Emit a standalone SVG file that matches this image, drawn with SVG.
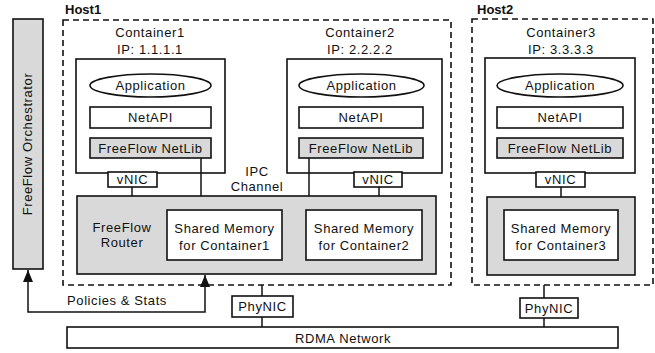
<svg xmlns="http://www.w3.org/2000/svg" width="655" height="353" viewBox="0 0 655 353">
<defs>
<style>
text{font-family:"Liberation Sans",Arial,sans-serif;font-size:13px;letter-spacing:0.6px;fill:#111;text-anchor:middle}
.b{font-weight:bold;text-anchor:start;letter-spacing:0}
.box{fill:#fff;stroke:#111;stroke-width:1.6}
.gray{fill:#d9d9d9;stroke:#111;stroke-width:1.6}
.host{fill:none;stroke:#111;stroke-width:1.6;stroke-dasharray:6,4}
.ln{fill:none;stroke:#111;stroke-width:1.5}
</style>
<marker id="ah" viewBox="0 0 12 10" refX="12" refY="5" markerWidth="12" markerHeight="10" markerUnits="userSpaceOnUse" orient="auto-start-reverse">
<path d="M0,0 L12,5 L0,10 Z" fill="#111"/>
</marker>
</defs>

<g id="orchestrator">
<rect class="gray" x="13" y="19" width="30" height="250"/>
<text transform="translate(32,144) rotate(-90)">FreeFlow Orchestrator</text>
</g>

<g id="host1">
<rect class="host" x="63" y="20" width="388" height="265"/>
<text class="b" x="65" y="14">Host1</text>
</g>

<g id="host2">
<rect class="host" x="472" y="19" width="181" height="266"/>
<text class="b" x="477" y="14">Host2</text>
</g>

<g id="container1">
<text x="150" y="37">Container1</text>
<text x="150" y="54">IP: 1.1.1.1</text>
<rect class="box" x="76" y="59" width="149" height="114"/>
<ellipse class="box" cx="150.5" cy="85.5" rx="60.5" ry="11.5"/>
<text x="150.5" y="90">Application</text>
<rect class="box" x="90" y="107" width="121" height="21"/>
<text x="150.5" y="122">NetAPI</text>
<rect class="gray" x="90" y="138" width="121" height="20"/>
<text x="150.5" y="152.5">FreeFlow NetLib</text>
</g>

<g id="vnic1">
<rect class="box" x="108" y="172" width="49" height="15"/>
<text x="132.5" y="184">vNIC</text>
</g>

<g id="container2">
<text x="360" y="37">Container2</text>
<text x="360" y="54">IP: 2.2.2.2</text>
<rect class="box" x="287" y="59" width="155" height="114"/>
<ellipse class="box" cx="361.5" cy="85.5" rx="62.5" ry="11.5"/>
<text x="361.5" y="90">Application</text>
<rect class="box" x="299" y="107" width="124" height="21"/>
<text x="361" y="122">NetAPI</text>
<rect class="gray" x="299" y="138" width="124" height="20"/>
<text x="361" y="152.5">FreeFlow NetLib</text>
</g>

<g id="vnic2">
<rect class="box" x="354" y="172" width="48" height="15"/>
<text x="378" y="184">vNIC</text>
</g>

<g id="container3">
<text x="561" y="37">Container3</text>
<text x="561" y="54">IP: 3.3.3.3</text>
<rect class="box" x="485" y="58" width="150" height="115"/>
<ellipse class="box" cx="560" cy="85.5" rx="63" ry="11.5"/>
<text x="560" y="90">Application</text>
<rect class="box" x="497" y="107" width="126" height="21"/>
<text x="560" y="122">NetAPI</text>
<rect class="gray" x="497" y="138" width="126" height="20"/>
<text x="560" y="152.5">FreeFlow NetLib</text>
</g>

<g id="vnic3">
<rect class="box" x="536" y="172" width="49" height="15"/>
<text x="560.5" y="184">vNIC</text>
</g>

<g id="router1">
<rect class="gray" x="77" y="196" width="359" height="78"/>
<text x="122" y="232">FreeFlow</text>
<text x="122" y="247">Router</text>
</g>

<g id="shm1">
<rect class="box" x="167" y="210" width="115" height="50"/>
<text x="224.5" y="233">Shared Memory</text>
<text x="224.5" y="250">for Container1</text>
</g>

<g id="shm2">
<rect class="box" x="306" y="210" width="116" height="50"/>
<text x="364" y="233">Shared Memory</text>
<text x="364" y="250">for Container2</text>
</g>

<g id="router2">
<rect class="gray" x="487" y="197" width="148" height="78"/>
</g>

<g id="shm3">
<rect class="box" x="504" y="210" width="114" height="50"/>
<text x="561" y="233">Shared Memory</text>
<text x="561" y="250">for Container3</text>
</g>

<g id="phynic1">
<rect class="box" x="232" y="296" width="61" height="21"/>
<text x="262.5" y="311">PhyNIC</text>
</g>

<g id="phynic2">
<rect class="box" x="520" y="298" width="58" height="20"/>
<text x="549" y="312.5">PhyNIC</text>
</g>

<g id="rdma">
<rect class="box" x="67" y="327" width="551" height="21"/>
<text x="343" y="343">RDMA Network</text>
</g>

<g id="connectors">
<line class="ln" x1="132" y1="187" x2="132" y2="196"/>
<line class="ln" x1="201" y1="158" x2="201" y2="196"/>
<line class="ln" x1="309" y1="158" x2="309" y2="196"/>
<line class="ln" x1="379" y1="187" x2="379" y2="196"/>
<line class="ln" x1="561" y1="187" x2="561" y2="197"/>
<line class="ln" x1="262" y1="285" x2="262" y2="296"/>
<line class="ln" x1="262" y1="317" x2="262" y2="327"/>
<line class="ln" x1="544" y1="285" x2="544" y2="298"/>
<line class="ln" x1="544" y1="318" x2="544" y2="327"/>
<path class="ln" d="M28,270 L28,312 L205,312 L205,275" marker-start="url(#ah)" marker-end="url(#ah)"/>
<text x="117" y="305">Policies &amp; Stats</text>
<text x="257" y="176">IPC</text>
<text x="257" y="191">Channel</text>
</g>
</svg>
